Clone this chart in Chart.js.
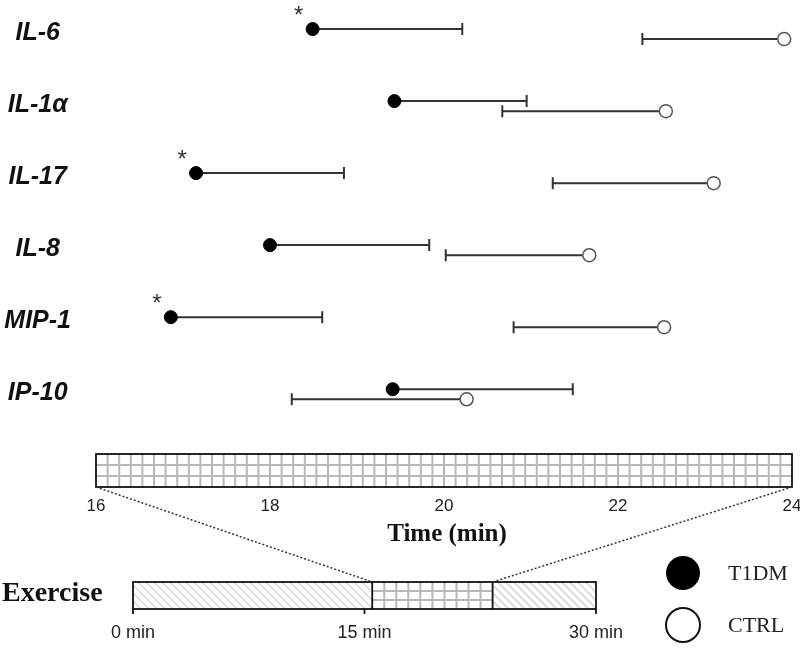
<!DOCTYPE html>
<html>
<head>
<meta charset="utf-8">
<script src="https://cdn.jsdelivr.net/npm/chart.js@4.4.0/dist/chart.umd.min.js"></script>
<style>
  html, body { margin: 0; padding: 0; background: #fff; }
</style>
</head>
<body>
<canvas id="chart" width="800" height="648"></canvas>
<script>
// ─── Data (time to peak, min) ───
const cytokines  = ['IL-6', 'IL-1α', 'IL-17', 'IL-8', 'MIP-1', 'IP-10'];
const t1dmMean   = [18.49, 19.43, 17.15, 18.00, 16.86, 19.41];
const t1dmUpper  = [20.21, 20.95, 18.85, 19.83, 18.60, 21.48];
const ctrlMean   = [23.91, 22.55, 23.10, 21.67, 22.53, 20.26];
const ctrlLower  = [22.28, 20.67, 21.25, 20.02, 20.80, 18.25];
const significant = [true, false, true, false, true, false];
const timeTicks  = [16, 18, 20, 22, 24];
const exerciseTicks = [0, 15, 30];
// exercise phases in minutes: [start, end, fill]
const exercisePhases = [[0, 15.5, 'hatch'], [15.5, 23.3, 'grid'], [23.3, 30, 'hatch']];

const T_OFF = -0.06, C_OFF = 0.08;
const LINE = '#333';

function drawGrid(ctx, x0, y0, w, h, cols, rows) {
    ctx.save();
    ctx.fillStyle = '#fff';
    ctx.fillRect(x0, y0, w, h);
    ctx.strokeStyle = '#b8b8b8';
    ctx.lineWidth = 2;
    ctx.beginPath();
    for (let i = 1; i < cols; i++) {
        const x = x0 + i * w / cols;
        ctx.moveTo(x, y0); ctx.lineTo(x, y0 + h);
    }
    for (let j = 1; j < rows; j++) {
        const y = y0 + j * h / rows;
        ctx.moveTo(x0, y); ctx.lineTo(x0 + w, y);
    }
    ctx.stroke();
    ctx.restore();
}

function drawHatch(ctx, x0, y0, w, h) {
    ctx.save();
    ctx.beginPath();
    ctx.rect(x0, y0, w, h);
    ctx.clip();
    ctx.strokeStyle = '#cfcfcf';
    ctx.lineWidth = 1.2;
    ctx.beginPath();
    for (let x = x0 - h; x < x0 + w + h; x += 8) {
        ctx.moveTo(x, y0); ctx.lineTo(x + h, y0 + h);
    }
    ctx.stroke();
    ctx.restore();
}

const errorBars = {
    id: 'errorBars',
    beforeDatasetsDraw(chart) {
        const { ctx, scales: { x, y } } = chart;
        ctx.save();
        ctx.strokeStyle = LINE;
        ctx.lineWidth = 2;
        cytokines.forEach((_, i) => {
            const yt = y.getPixelForValue(i + T_OFF);
            const xa = x.getPixelForValue(t1dmMean[i]);
            const xb = x.getPixelForValue(t1dmUpper[i]);
            ctx.beginPath();
            ctx.moveTo(xa, yt); ctx.lineTo(xb, yt);
            ctx.moveTo(xb, yt - 6); ctx.lineTo(xb, yt + 6);
            ctx.stroke();

            const yc = y.getPixelForValue(i + C_OFF);
            const xc = x.getPixelForValue(ctrlMean[i]);
            const xl = x.getPixelForValue(ctrlLower[i]);
            ctx.beginPath();
            ctx.moveTo(xl, yc); ctx.lineTo(xc, yc);
            ctx.moveTo(xl, yc - 6); ctx.lineTo(xl, yc + 6);
            ctx.stroke();
        });
        ctx.restore();
    },
    afterDatasetsDraw(chart) {
        const { ctx, scales: { x, y } } = chart;
        ctx.save();
        ctx.fillStyle = '#333';
        ctx.font = '24px "Liberation Sans", Arial, sans-serif';
        ctx.textAlign = 'center';
        ctx.textBaseline = 'alphabetic';
        cytokines.forEach((_, i) => {
            if (!significant[i]) return;
            const px = x.getPixelForValue(t1dmMean[i]) - 14;
            const py = y.getPixelForValue(i + T_OFF) - 20;
            ctx.fillText('*', px, py + 14);
        });
        ctx.restore();
    }
};

const decorations = {
    id: 'decorations',
    afterDraw(chart) {
        const { ctx, chartArea, scales: { x } } = chart;
        const left = x.getPixelForValue(timeTicks[0]);
        const right = x.getPixelForValue(timeTicks[timeTicks.length - 1]);
        const boxTop = 454, boxBot = chartArea.bottom;

        // zoomed time window box
        drawGrid(ctx, left, boxTop, right - left, boxBot - boxTop, 60, 3);
        ctx.save();
        ctx.strokeStyle = '#111';
        ctx.lineWidth = 1.8;
        ctx.strokeRect(left, boxTop, right - left, boxBot - boxTop);

        // axis title
        ctx.fillStyle = '#111';
        ctx.font = 'bold 25px "Liberation Serif", "Times New Roman", serif';
        ctx.textAlign = 'center';
        ctx.textBaseline = 'middle';
        ctx.fillText('Time (min)', 447, 535);

        // exercise bar
        const exL = 133, exR = 596, exTop = 582, exBot = 609;
        const exX = m => exL + (m / 30) * (exR - exL);
        exercisePhases.forEach(([a, b, fill]) => {
            const xa = exX(a), xb = exX(b);
            if (fill === 'grid') {
                drawGrid(ctx, xa, exTop, xb - xa, exBot - exTop, 10, 3);
            } else {
                drawHatch(ctx, xa, exTop, xb - xa, exBot - exTop);
            }
        });
        ctx.strokeStyle = '#111';
        ctx.lineWidth = 1.8;
        ctx.strokeRect(exL, exTop, exR - exL, exBot - exTop);
        ctx.beginPath();
        exercisePhases.slice(1).forEach(([a]) => {
            ctx.moveTo(exX(a), exTop); ctx.lineTo(exX(a), exBot);
        });
        exerciseTicks.forEach(m => {
            ctx.moveTo(exX(m), exBot); ctx.lineTo(exX(m), exBot + 5);
        });
        ctx.stroke();

        ctx.font = '18px "Liberation Sans", Arial, sans-serif';
        ctx.fillStyle = '#222';
        exerciseTicks.forEach(m => ctx.fillText(m + ' min', exX(m), 633));

        ctx.font = 'bold 28px "Liberation Serif", "Times New Roman", serif';
        ctx.fillStyle = '#111';
        ctx.textAlign = 'left';
        ctx.fillText('Exercise', 2, 594);

        // dotted zoom lines
        ctx.strokeStyle = '#333';
        ctx.lineWidth = 1.5;
        ctx.setLineDash([2, 2]);
        ctx.beginPath();
        ctx.moveTo(left, boxBot); ctx.lineTo(exX(exercisePhases[1][0]), exTop);
        ctx.moveTo(right, boxBot); ctx.lineTo(exX(exercisePhases[1][1]), exTop);
        ctx.stroke();
        ctx.setLineDash([]);

        // legend
        ctx.fillStyle = '#000';
        ctx.beginPath();
        ctx.arc(683, 573, 17, 0, Math.PI * 2);
        ctx.fill();
        ctx.strokeStyle = '#111';
        ctx.lineWidth = 2;
        ctx.beginPath();
        ctx.arc(683, 625, 17, 0, Math.PI * 2);
        ctx.stroke();
        ctx.font = '22px "Liberation Serif", "Times New Roman", serif';
        ctx.fillStyle = '#222';
        ctx.fillText('T1DM', 728, 574);
        ctx.fillText('CTRL', 728, 626);
        ctx.restore();
    }
};

new Chart(document.getElementById('chart'), {
    type: 'scatter',
    data: {
        datasets: [{
            label: 'T1DM',
            data: cytokines.map((_, i) => ({ x: t1dmMean[i], y: i + T_OFF })),
            pointRadius: 6.5,
            backgroundColor: '#000',
            borderColor: '#000',
            borderWidth: 1,
        }, {
            label: 'CTRL',
            data: cytokines.map((_, i) => ({ x: ctrlMean[i], y: i + C_OFF })),
            pointRadius: 6.5,
            backgroundColor: '#fff',
            borderColor: '#555',
            borderWidth: 1.5,
        }]
    },
    options: {
        responsive: false,
        animation: false,
        devicePixelRatio: 1,
        layout: { padding: { left: 0, right: 8, top: 0, bottom: 0 } },
        plugins: {
            legend: { display: false },
            tooltip: { enabled: false },
        },
        scales: {
            x: {
                type: 'linear',
                min: 16,
                max: 24,
                grid: { display: false, drawTicks: false },
                border: { display: false },
                afterBuildTicks: s => { s.ticks = timeTicks.map(v => ({ value: v })); },
                ticks: {
                    color: '#222',
                    padding: 9,
                    font: { family: '"Liberation Sans", Arial, sans-serif', size: 17 },
                },
                afterFit: s => { s.height = 161; s.paddingLeft = 0; s.paddingRight = 0; },
            },
            y: {
                type: 'linear',
                reverse: true,
                min: -0.352,
                max: 6.298,
                grid: { display: false, drawTicks: false },
                border: { display: false },
                afterBuildTicks: s => { s.ticks = cytokines.map((_, i) => ({ value: i })); },
                ticks: {
                    color: '#111',
                    padding: 25,
                    crossAlign: 'center',
                    callback: v => cytokines[v],
                    font: { family: '"Liberation Sans", Arial, sans-serif', size: 25, style: 'italic', weight: 'bold' },
                },
                afterFit: s => { s.width = 96; s.paddingTop = 0; s.paddingBottom = 0; },
            }
        }
    },
    plugins: [errorBars, decorations]
});
</script>
</body>
</html>
